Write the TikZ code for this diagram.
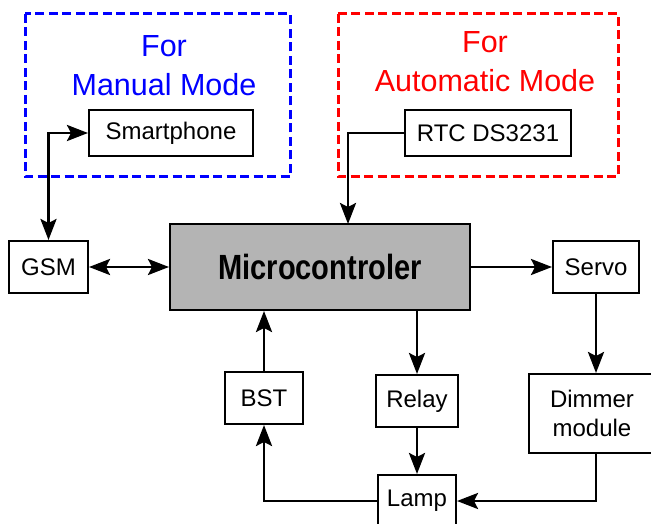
\documentclass[tikz,border=0pt]{standalone}
\usepackage{fontspec}
\setmainfont{Liberation Sans}
\usetikzlibrary{arrows.meta}
\definecolor{ctrlgray}{RGB}{180,180,180}
\tikzset{
  block/.style={draw, line width=2pt, inner sep=0pt, font=\fontsize{24}{29}\selectfont, align=center},
  ctrlblock/.style={block, fill=ctrlgray},
  frame/.style={dash pattern=on 9pt off 4.5pt, line width=3pt},
  title/.style={font=\fontsize{30.5}{39}\selectfont, align=center},
  tip/.tip={Stealth[length=21pt,width=16pt,inset=4pt]},
  link/.style={line width=2.8pt, -tip},
  twolink/.style={line width=2.8pt, tip-tip}
}
\begin{document}
\begin{tikzpicture}[x=1pt,y=-1pt]
      \useasboundingbox (0,0) rectangle (651,524);
      \draw[frame, blue] (25,14) rectangle (290,177);
      \draw[frame, red] (338,14) rectangle (618,177);
      \node[title, text=blue] (manualtitle) at (164,66) {For\\Manual Mode};
      \node[title, text=red] (autotitle) at (485,62) {For\\Automatic Mode};
      \draw
        (171,133) node[block, minimum width=164pt, minimum height=46pt] (smart){Smartphone}
        (488,133) node[block, minimum width=166pt, minimum height=46pt] (rtc){RTC DS3231}
        (320,267) node[ctrlblock, minimum width=300pt, minimum height=86pt] (micro){\bfseries\fontsize{35}{40}\selectfont\scalebox{0.83}[1]{Microcontroler}}
        (48.5,267) node[block, minimum width=79pt, minimum height=52pt] (gsm){GSM}
        (596,267) node[block, minimum width=86pt, minimum height=52pt] (servo){Servo}
        (264,398) node[block, minimum width=78pt, minimum height=52pt] (bst){BST}
        (417,401) node[block, minimum width=82pt, minimum height=52pt] (relay){Relay}
        (592,413.5) node[block, minimum width=126pt, minimum height=79pt] (dimmer){Dimmer\\module}
        (417,501) node[block, minimum width=78pt, minimum height=52pt] (lamp){Lamp};
      \coordinate (rtcin) at (348,224);
      \begin{scope}[link]
        \draw[twolink] (gsm.north) |- (smart.west);
        \draw (rtc.west) -| (rtcin);
        \draw[twolink] (gsm.east) to (micro.west);
        \draw (micro.east) to (servo.west);
        \draw (relay.north |- micro.south) to (relay.north);
        \draw (bst.north) to (bst.north |- micro.south);
        \draw (servo.south) to (servo.south |- dimmer.north);
        \draw (relay.south) to (lamp.north);
        \draw (servo.south |- dimmer.south) |- (lamp.east);
        \draw (lamp.west) -| (bst.south);
      \end{scope}
    \end{tikzpicture}
\end{document}
